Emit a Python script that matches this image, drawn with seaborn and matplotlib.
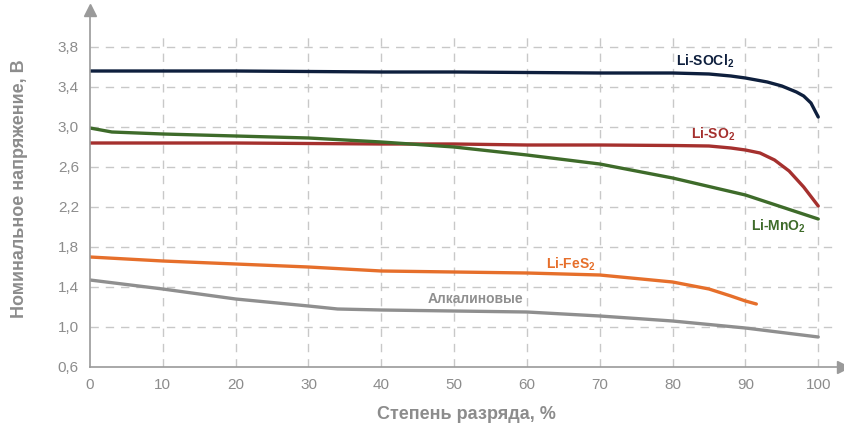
import pandas as pd
import matplotlib.pyplot as plt
import seaborn as sns

# Data
socl2_x = [0, 10, 20, 30, 40, 50, 60, 70, 80, 85, 88, 90, 93, 95, 97, 98, 99, 100]
socl2_y = [3.56, 3.56, 3.56, 3.555, 3.55, 3.55, 3.545, 3.54, 3.54, 3.53, 3.51, 3.49, 3.45, 3.41, 3.35, 3.31, 3.24, 3.10]

so2_x = [0, 10, 20, 30, 40, 50, 60, 70, 80, 85, 88, 90, 92, 94, 96, 98, 100]
so2_y = [2.84, 2.84, 2.84, 2.835, 2.83, 2.83, 2.82, 2.82, 2.815, 2.81, 2.79, 2.77, 2.74, 2.67, 2.56, 2.40, 2.21]

mno2_x = [0, 1.5, 3, 10, 20, 30, 40, 50, 60, 70, 80, 90, 100]
mno2_y = [2.99, 2.97, 2.95, 2.93, 2.91, 2.89, 2.85, 2.80, 2.72, 2.63, 2.49, 2.32, 2.08]

fes2_x = [0, 10, 20, 30, 40, 50, 60, 70, 80, 85, 88, 90, 91.5]
fes2_y = [1.70, 1.66, 1.63, 1.60, 1.56, 1.55, 1.54, 1.52, 1.45, 1.38, 1.31, 1.26, 1.23]

alk_x = [0, 10, 20, 30, 34, 40, 50, 60, 70, 80, 90, 100]
alk_y = [1.47, 1.38, 1.28, 1.21, 1.18, 1.17, 1.16, 1.15, 1.11, 1.06, 0.99, 0.90]

x_ticks = [0, 10, 20, 30, 40, 50, 60, 70, 80, 90, 100]
y_ticks = [0.6, 1.0, 1.4, 1.8, 2.2, 2.6, 3.0, 3.4, 3.8]

series = [
    (r"Li-SOCl$_\mathbf{2}$", socl2_x, socl2_y, "#0e1f3d", (84.5, 3.66)),
    (r"Li-SO$_\mathbf{2}$", so2_x, so2_y, "#a5302e", (85.5, 2.93)),
    (r"Li-MnO$_\mathbf{2}$", mno2_x, mno2_y, "#3e6b2a", (94.5, 2.01)),
    (r"Li-FeS$_\mathbf{2}$", fes2_x, fes2_y, "#e66f2b", (66.0, 1.63)),
    ("Алкалиновые", alk_x, alk_y, "#8f8f8f", (53.0, 1.28)),
]

sns.set_style("white")
plt.rcParams["font.family"] = ["Liberation Sans", "DejaVu Sans"]
plt.rcParams["mathtext.fontset"] = "custom"
plt.rcParams["mathtext.bf"] = "Liberation Sans:bold"
plt.rcParams["mathtext.rm"] = "Liberation Sans:bold"

grey = "#8c8c8c"
fig = plt.figure(figsize=(8.45, 4.28), dpi=100)
ax = fig.add_axes([90 / 845, 1 - 367 / 428, 753 / 845, 357 / 428])

for name, xs, ys, color, pos in series:
    df = pd.DataFrame({"x": xs, "y": ys})
    sns.lineplot(data=df, x="x", y="y", ax=ax, color=color, lw=2.4, estimator=None, sort=False)
    ax.text(pos[0], pos[1], name, color=color, fontsize=10, fontweight="bold",
            ha="center", va="center")

ax.set_xlim(0, 103.4)
ax.set_ylim(0.6, 4.17)
ax.set_xticks(x_ticks)
ax.set_yticks(y_ticks)
ax.set_xticklabels([str(t) for t in x_ticks])
ax.set_yticklabels([f"{t:.1f}".replace(".", ",") for t in y_ticks])
ax.tick_params(colors=grey, labelsize=11, length=0, pad=8)

# dashed grid, only inside the plotted range
for t in x_ticks[1:]:
    ax.plot([t, t], [0.6, 3.95], color="#c8c8c8", lw=1, ls=(0, (6, 5)), zorder=0)
for t in y_ticks[1:]:
    ax.plot([0, 102], [t, t], color="#c8c8c8", lw=1, ls=(0, (6, 5)), zorder=0)

for s in ["top", "right"]:
    ax.spines[s].set_visible(False)
for s in ["left", "bottom"]:
    ax.spines[s].set_color("#9a9a9a")
    ax.spines[s].set_linewidth(1.2)

# arrow heads on the axes
ax.plot(1, 0, ">", color="#9a9a9a", ms=8, transform=ax.transAxes, clip_on=False)
ax.plot(0, 1, "^", color="#9a9a9a", ms=8, transform=ax.transAxes, clip_on=False)

ax.set_xlabel("Степень разряда, %", color=grey, fontsize=13, fontweight="bold", labelpad=10)
ax.set_ylabel("Номинальное напряжение, В", color=grey, fontsize=13, fontweight="bold", labelpad=12)
ax.yaxis.set_label_coords(-0.083, 0.5)

plt.savefig("out.png", dpi=100)
